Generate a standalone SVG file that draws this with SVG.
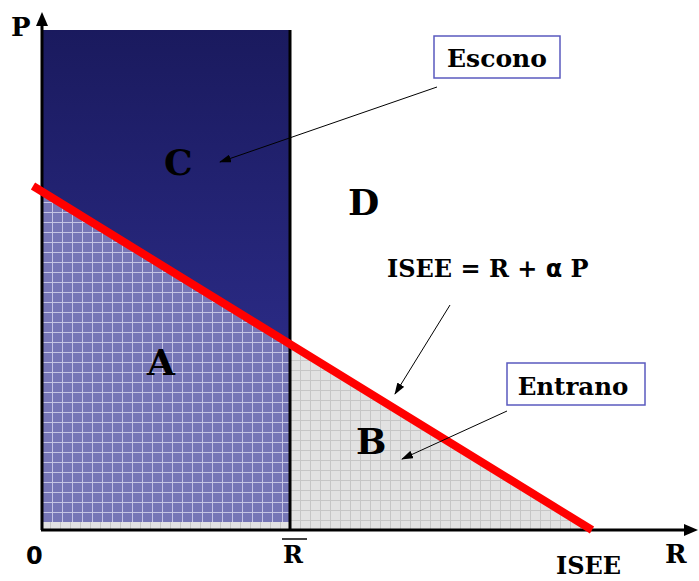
<svg xmlns="http://www.w3.org/2000/svg" width="699" height="581" viewBox="0 0 699 581">
<style>
.lbl{font-family:"DejaVu Serif","Liberation Serif",serif;font-weight:bold;fill:#000}
.big{font-size:36px}
.box{fill:#fff;stroke:#5a5abf;stroke-width:1.5}
.ptr{stroke:#000;stroke-width:1;fill:none;marker-end:url(#ah)}
</style>
<defs>
<linearGradient id="dark" x1="0" y1="0" x2="0" y2="1">
<stop offset="0" stop-color="#1a1a5e"/>
<stop offset="1" stop-color="#2a2a84"/>
</linearGradient>
<pattern id="gb" width="10" height="10" patternUnits="userSpaceOnUse" x="2" y="2">
<rect width="10" height="10" fill="#7676b6"/>
<path d="M0 0.5H10M0.5 0V10" stroke="#c4c4e4" stroke-width="1"/>
</pattern>
<pattern id="gg" width="10" height="10" patternUnits="userSpaceOnUse" x="0" y="0">
<rect width="10" height="10" fill="#e2e2e2"/>
<path d="M0 0.5H10M0.5 0V10" stroke="#c6c6c6" stroke-width="1"/>
</pattern>
<marker id="ah" markerWidth="12" markerHeight="8" refX="11" refY="4" orient="auto" markerUnits="userSpaceOnUse">
<path d="M0 0L12 4L0 8z" fill="#000"/>
</marker>
</defs>
<g id="regions">
<g id="regionC"><polygon points="42,30 290,30 290,344 42,191" fill="url(#dark)"/></g>
<g id="regionB"><polygon points="42,520 290,344 592,530 42,530" fill="url(#gg)"/></g>
<g id="regionA"><polygon points="42,191 290,344 290,522 42,522" fill="url(#gb)"/></g>
</g>
<g id="axes">
<line x1="42" y1="530" x2="42" y2="22" stroke="#000" stroke-width="3"/>
<polygon points="42,12 36,26 48,26" fill="#000"/>
<line x1="41" y1="530" x2="688" y2="530" stroke="#000" stroke-width="3"/>
<polygon points="698,530 684,524 684,536" fill="#000"/>
<line x1="290" y1="30" x2="290" y2="530" stroke="#000" stroke-width="3"/>
</g>
<g id="isee-line"><line x1="33" y1="186" x2="592" y2="530" stroke="#ff0000" stroke-width="8"/></g>
<g id="labels">
<text class="lbl" x="11" y="36" font-size="26">P</text>
<text class="lbl big" x="164" y="175">C</text>
<text class="lbl big" x="348" y="215">D</text>
<text class="lbl big" x="147" y="375">A</text>
<text class="lbl big" x="356" y="454">B</text>
<text x="26" y="564" font-family="DejaVu Sans, sans-serif" font-weight="bold" font-size="24">0</text>
<text class="lbl" x="283" y="563" font-size="24">R</text>
<line x1="282" y1="539" x2="307" y2="539" stroke="#000" stroke-width="1.5"/>
<text class="lbl" x="665" y="563" font-size="26">R</text>
<text class="lbl" x="556" y="574" font-size="24">ISEE</text>
<text class="lbl" x="387" y="277" font-size="24">ISEE = R + <tspan font-family="DejaVu Sans, sans-serif">α</tspan> P</text>
</g>
<g id="escono"><rect class="box" x="434" y="36" width="126" height="42"/><text class="lbl" x="497" y="67" font-size="25" text-anchor="middle">Escono</text></g>
<g id="entrano"><rect class="box" x="507" y="363" width="138" height="42"/><text class="lbl" x="573" y="395" font-size="24.5" text-anchor="middle">Entrano</text></g>
<g id="connectors">
<line class="ptr" x1="437" y1="87" x2="220" y2="162"/>
<line class="ptr" x1="450" y1="305" x2="395" y2="394"/>
<line class="ptr" x1="507" y1="411" x2="402" y2="459"/>
</g>
</svg>
